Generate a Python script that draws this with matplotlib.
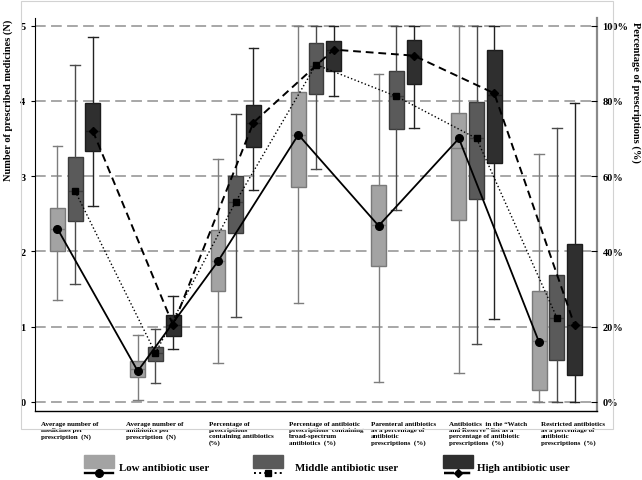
import numpy as np
import matplotlib.pyplot as plt
from matplotlib.patches import Rectangle
from matplotlib.lines import Line2D

plt.rcParams['font.family'] = ['Liberation Serif', 'DejaVu Serif']
plt.rcParams['font.weight'] = 'bold'

# Categories (x axis)
categories = [
    'Average number of\nmedicines per\nprescription  (N)',
    'Average number of\nantibiotics per\nprescription  (N)',
    'Percentage of\nprescriptions\ncontaining antibiotics\n(%)',
    'Percentage of antibiotic\nprescriptions  containing\nbroad-spectrum\nantibiotics  (%)',
    'Parenteral antibiotics\nas a percentage of\nantibiotic\nprescriptions  (%)',
    'Antibiotics  in the \u201cWatch\nand Reserve\u201d list as a\npercentage of antibiotic\nprescriptions  (%)',
    'Restricted antibiotics\nas a percentage of\nantibiotic\nprescriptions  (%)',
]

groups = ['Low antibiotic user', 'Middle antibiotic user', 'High antibiotic user']

# box statistics on the left-axis scale (N; 1 unit = 20 %)
low_whislo = [1.35, 0.02, 0.52, 1.31, 0.26, 0.39, 0.00]
low_q1     = [2.00, 0.33, 1.47, 2.86, 1.80, 2.42, 0.16]
low_med    = [2.30, 0.44, 1.87, 3.55, 2.35, 3.37, 0.81]
low_q3     = [2.58, 0.55, 2.28, 4.12, 2.88, 3.84, 1.48]
low_whishi = [3.40, 0.89, 3.23, 5.00, 4.35, 5.00, 3.29]
low_mean   = [2.30, 0.41, 1.87, 3.55, 2.34, 3.50, 0.79]

mid_whislo = [1.57, 0.25, 1.13, 3.09, 2.55, 0.77, 0.00]
mid_q1     = [2.40, 0.54, 2.24, 4.09, 3.63, 2.69, 0.56]
mid_med    = [2.80, 0.65, 2.66, 4.46, 4.06, 3.50, 1.12]
mid_q3     = [3.26, 0.73, 3.00, 4.77, 4.39, 3.98, 1.69]
mid_whishi = [4.47, 0.97, 3.82, 5.00, 5.00, 5.00, 3.64]
mid_mean   = [2.80, 0.65, 2.66, 4.48, 4.06, 3.50, 1.12]

high_whislo = [2.60, 0.70, 2.82, 4.07, 3.64, 1.10, 0.00]
high_q1     = [3.34, 0.87, 3.38, 4.40, 4.22, 3.17, 0.36]
high_med    = [3.60, 1.02, 3.71, 4.68, 4.60, 4.08, 1.02]
high_q3     = [3.97, 1.15, 3.95, 4.80, 4.81, 4.67, 2.10]
high_whishi = [4.85, 1.41, 4.70, 5.00, 5.00, 5.00, 3.97]
high_mean   = [3.60, 1.02, 3.71, 4.68, 4.60, 4.10, 1.02]

box_data = [
    (low_whislo, low_q1, low_med, low_q3, low_whishi, low_mean),
    (mid_whislo, mid_q1, mid_med, mid_q3, mid_whishi, mid_mean),
    (high_whislo, high_q1, high_med, high_q3, high_whishi, high_mean),
]

fill_colors = ['#a3a3a3', '#5a5a5a', '#2f2f2f']
edge_colors = ['#7a7a7a', '#3c3c3c', '#1c1c1c']
whisk_colors = ['#7d7d7d', '#4a4a4a', '#222222']
line_styles = ['-', ':', (0, (4, 2.5))]
markers = ['o', 's', 'D']
marker_sizes = [5.5, 5, 4]
line_widths = [1.3, 1.0, 1.4]
offsets = [-0.22, 0.0, 0.22]

W, H = 642, 481
def fx(p):
    return p / W
def fy(p):
    return 1 - p / H

fig = plt.figure(figsize=(6.42, 4.81), dpi=100)
ax = fig.add_axes([fx(35), fy(412), fx(597) - fx(35), fy(19) - fy(412)])

x = np.arange(1, len(categories) + 1)

for k, (wlo, q1, med, q3, whi, mean) in enumerate(box_data):
    stats = [dict(whislo=wlo[i], q1=q1[i], med=med[i], q3=q3[i], whishi=whi[i], fliers=[])
             for i in range(len(categories))]
    pos = x + offsets[k]
    ax.bxp(stats, positions=pos, widths=0.185, capwidths=0.12, patch_artist=True,
           showfliers=False, manage_ticks=False,
           boxprops=dict(facecolor=fill_colors[k], edgecolor=edge_colors[k], linewidth=1.0),
           whiskerprops=dict(color=whisk_colors[k], linewidth=1.0),
           capprops=dict(color=whisk_colors[k], linewidth=1.0),
           medianprops=dict(color=edge_colors[k], linewidth=1.0))
    ax.plot(pos, mean, color='black', linestyle=line_styles[k], linewidth=line_widths[k],
            marker=markers[k], markersize=marker_sizes[k], zorder=5)

ax.set_xlim(0.5, 7.5)
ax.set_ylim(-0.12, 5.1)
ax.set_yticks(range(0, 6))
ax.set_xticks([])
ax.yaxis.grid(True, linestyle=(0, (7, 3.5)), color='#8f8f8f', linewidth=1.1)
ax.set_axisbelow(True)
ax.tick_params(axis='y', labelsize=7.5, length=3, width=0.8, pad=4)
ax.spines['top'].set_visible(False)
ax.spines['right'].set_color('#8a8a8a')
ax.spines['right'].set_linewidth(1.6)
ax.spines['left'].set_linewidth(0.8)
ax.spines['bottom'].set_linewidth(1.0)

ax2 = ax.twinx()
ax2.set_ylim(-0.12 * 20, 5.1 * 20)
ax2.set_yticks(range(0, 101, 20))
ax2.set_yticklabels([f'{v}%' for v in range(0, 101, 20)])
ax2.tick_params(axis='y', labelsize=7.5, length=4, width=0.8, direction='in', pad=4)
for s in ['top', 'left', 'bottom', 'right']:
    ax2.spines[s].set_visible(False)

# category labels under the axis
label_x = [0.58, 1.63, 2.67, 3.66, 4.68, 5.66, 6.80]
for lx, lab in zip(label_x, categories):
    ax.text(lx, -0.25, lab, ha='left', va='top', fontsize=5, linespacing=1.25)

fig.text(fx(8), fy(20), 'Number of prescribed medicines (N)', rotation=90,
         ha='center', va='top', fontsize=7.5)
fig.text(fx(636), fy(22), 'Percentage of prescriptions (%)', rotation=270,
         ha='center', va='top', fontsize=7.5)

# light frame around the chart area
fig.add_artist(Rectangle((fx(21), fy(430)), fx(613) - fx(21), fy(2) - fy(430),
                         transform=fig.transFigure, fill=False, edgecolor='#d2d2d2', linewidth=0.8))

# legend
patch_x = [84, 253, 443]
text_x = [119, 295, 477]
for k, lab in enumerate(groups):
    fig.add_artist(Rectangle((fx(patch_x[k]), fy(469)), fx(30), fy(456) - fy(469),
                             transform=fig.transFigure, facecolor=fill_colors[k],
                             edgecolor=fill_colors[k]))
    fig.add_artist(Line2D([fx(patch_x[k] + 1), fx(patch_x[k] + 29)], [fy(474), fy(474)],
                          transform=fig.transFigure, color='black', linestyle=line_styles[k],
                          linewidth=line_widths[k] + 0.4))
    fig.add_artist(Line2D([fx(patch_x[k] + 15)], [fy(474)], transform=fig.transFigure,
                          color='black', marker=markers[k], markersize=marker_sizes[k]))
    fig.text(fx(text_x[k]), fy(469), lab, ha='left', va='center', fontsize=7.8)

fig.savefig('out.png', dpi=100)
